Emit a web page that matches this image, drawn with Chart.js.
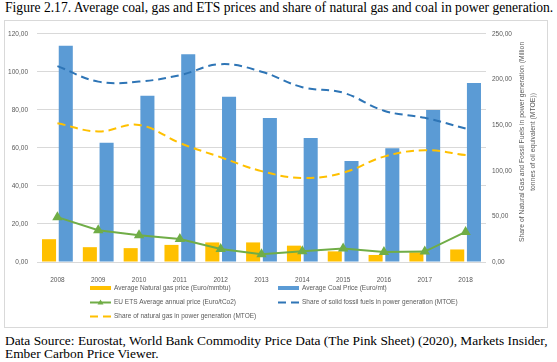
<!DOCTYPE html>
<html>
<head>
<meta charset="utf-8">
<script src="https://cdn.jsdelivr.net/npm/chart.js"></script>
<style>
  body { margin: 0; width: 557px; height: 362px; background: #fff; position: relative; overflow: hidden; }
  #title { position: absolute; left: 5px; top: 0px; font: 13.6px 'Liberation Serif', serif; white-space: nowrap; color: #000; }
  #box { position: absolute; left: 4px; top: 20px; width: 542px; height: 306px; border: 1px solid #d9d9d9; }
  #source { position: absolute; left: 5px; top: 334px; font: 13.4px 'Liberation Serif', serif; line-height: 13px; color: #000; white-space: nowrap; }
</style>
</head>
<body>
<div id="title">Figure 2.17. Average coal, gas and ETS prices and share of natural gas and coal in power generation.</div>
<div id="box"><canvas id="myChart" width="542" height="306"></canvas></div>
<div id="source">Data Source: Eurostat, World Bank Commodity Price Data (The Pink Sheet) (2020), Markets Insider,<br>Ember Carbon Price Viewer.</div>
<script>
var years = ['2008', '2009', '2010', '2011', '2012', '2013', '2014', '2015', '2016', '2017', '2018'];
var gasPrice = [12.0, 7.8, 7.3, 9.0, 10.3, 10.3, 8.6, 5.6, 3.7, 5.1, 6.6];
var coalPrice = [113.8, 62.8, 87.5, 109.3, 87.0, 75.8, 65.3, 53.2, 59.8, 80.0, 94.2];
var etsPrice = [23.6, 16.7, 14.1, 12.1, 6.8, 4.1, 5.6, 7.1, 5.2, 5.5, 15.8];
var solidShare = [214.7, 197.7, 197.7, 204.8, 216.8, 208.6, 191.6, 185.6, 165.8, 158.0, 146.3];
var gasShare = [152.0, 143.1, 150.2, 130.4, 114.8, 99.6, 92.1, 97.8, 115.5, 122.5, 117.2];
var rightTitle = ['Share of Natural Gas and Fossil Fuels in power generation (Million', 'tonnes of oil equivalent (MTOE))'];

var tickFont = { family: "'Liberation Sans', sans-serif", size: 6.5 };
var grey = '#595959';
function comma(v) { return Number(v).toFixed(2).replace('.', ','); }

// legend in two columns plus right axis title drawn bottom-to-top
var extras = {
  id: 'extras',
  afterDraw: function (chart) {
    var ctx = chart.ctx, ds = chart.data.datasets;
    var a = chart.chartArea;
    ctx.save();
    ctx.font = "6.5px 'Liberation Sans', sans-serif";
    ctx.fillStyle = grey;
    ctx.textBaseline = 'middle';
    var slots = [[85, 267], [273, 267], [85, 281.5], [273, 281.5], [85, 295.5]];
    ds.forEach(function (d, k) {
      var x = slots[k][0], y = slots[k][1];
      ctx.save();
      if (d.type === 'bar') {
        ctx.fillStyle = d.backgroundColor;
        ctx.fillRect(x, y - 2, 21, 4);
      } else {
        ctx.strokeStyle = d.borderColor;
        ctx.lineWidth = 2;
        ctx.setLineDash(d.borderDash || []);
        ctx.beginPath();
        ctx.moveTo(x, y);
        ctx.lineTo(x + 21, y);
        ctx.stroke();
        if (d.pointStyle === 'triangle') {
          ctx.fillStyle = d.borderColor;
          ctx.beginPath();
          ctx.moveTo(x + 10.5, y - 3);
          ctx.lineTo(x + 13.5, y + 2);
          ctx.lineTo(x + 7.5, y + 2);
          ctx.closePath();
          ctx.fill();
        }
      }
      ctx.restore();
      ctx.fillText(d.label, x + 24, y);
    });
    ctx.font = "6.8px 'Liberation Sans', sans-serif";
    ctx.textAlign = 'center';
    var cy = (a.top + a.bottom) / 2 - 6;
    [517, 528].forEach(function (x, j) {
      ctx.save();
      ctx.translate(x, cy);
      ctx.rotate(-Math.PI / 2);
      ctx.fillText(rightTitle[j], 0, 0);
      ctx.restore();
    });
    ctx.restore();
  }
};

var ctx = document.getElementById('myChart').getContext('2d');
var myChart = new Chart(ctx, {
  data: {
    labels: years,
    datasets: [{
        type: 'bar',
        label: 'Average Natural gas price (Euro/mmbtu)',
        data: gasPrice,
        backgroundColor: '#FFC000',
        yAxisID: 'y',
        order: 2
      }, {
        type: 'bar',
        label: 'Average Coal Price (Euro/mt)',
        data: coalPrice,
        backgroundColor: '#5B9BD5',
        yAxisID: 'y',
        order: 2
      }, {
        type: 'line',
        label: 'EU ETS Average annual price (Euro/tCo2)',
        data: etsPrice,
        borderColor: '#70AD47',
        backgroundColor: '#70AD47',
        borderWidth: 2,
        pointStyle: 'triangle',
        pointRadius: 4,
        yAxisID: 'y',
        order: 1
      }, {
        type: 'line',
        label: 'Share of solid fossil fuels in power generation (MTOE)',
        data: solidShare,
        borderColor: '#2E75B6',
        borderWidth: 2,
        borderDash: [8, 5],
        pointRadius: 0,
        tension: 0.4,
        yAxisID: 'y1',
        order: 1
      }, {
        type: 'line',
        label: 'Share of natural gas in power generation (MTOE)',
        data: gasShare,
        borderColor: '#FFC000',
        borderWidth: 2,
        borderDash: [8, 5],
        pointRadius: 0,
        tension: 0.4,
        yAxisID: 'y1',
        order: 1
      }
    ]
  },
  options: {
    responsive: false,
    animation: false,
    categoryPercentage: 0.82,
    barPercentage: 0.84,
    layout: { padding: { top: 6, bottom: 45 } },
    plugins: {
      legend: { display: false },
      tooltip: { enabled: false }
    },
    scales: {
      x: {
        grid: { display: false },
        border: { display: false },
        ticks: { color: grey, font: tickFont, padding: 6, maxRotation: 0 },
        afterFit: function (s) { s.height = 20; }
      },
      y: {
        position: 'left',
        min: 0, max: 120,
        ticks: { stepSize: 20, color: grey, font: tickFont, padding: 9, callback: comma },
        grid: { color: '#d9d9d9', drawTicks: false },
        border: { display: false },
        afterFit: function (s) { s.width = 32; }
      },
      y1: {
        position: 'right',
        min: 0, max: 250,
        ticks: { stepSize: 50, color: grey, font: tickFont, padding: 6, callback: comma },
        grid: { display: false, drawTicks: false },
        border: { display: false },
        afterFit: function (s) { s.width = 61; }
      }
    }
  },
  plugins: [extras]
});
</script>
</body>
</html>
